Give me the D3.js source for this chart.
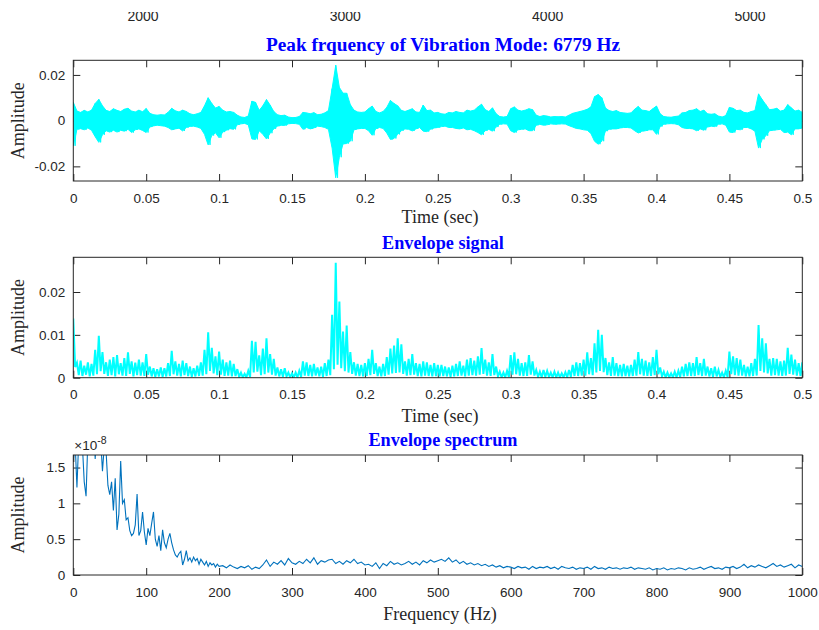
<!DOCTYPE html>
<html>
<head>
<meta charset="utf-8">
<script src="https://cdn.jsdelivr.net/npm/d3@7"></script>
<style>
  body { margin: 0; background: #fff; }
  svg { display: block; }
  .tick text { font-family: "Liberation Sans", Arial, sans-serif; font-size: 13.5px; fill: #262626; }
  .tick line { stroke: #262626; }
  .title { font-family: "Liberation Serif", "Times New Roman", serif; font-weight: bold; font-size: 18.2px; fill: #0000ff; }
  .lab { font-family: "Liberation Serif", "Times New Roman", serif; font-size: 18px; fill: #262626; }
</style>
</head>
<body>
<div id="chart"></div>
<script>
// vibration signal, upper and lower extent per 2.5 ms (x 1e-3)
var sigHi = [
  8.0,4.2,3.6,4.5,3.8,4.6,7.5,9.3,6.5,4.5,
  4.0,5.2,4.5,4.0,5.0,5.4,4.2,3.8,4.6,3.9,
  5.3,3.2,2.6,2.4,2.6,2.5,3.6,5.4,4.3,3.8,
  4.6,4.0,3.0,2.6,3.0,3.6,6.5,10.0,7.5,5.5,
  6.2,4.6,3.8,4.0,3.6,2.4,1.6,1.4,2.0,8.5,
  8.0,4.5,6.5,9.2,6.8,4.0,2.6,2.2,2.4,1.6,
  1.3,1.4,1.8,3.6,3.4,3.0,3.5,2.6,2.8,3.4,
  4.4,14.0,24.2,14.5,12.0,12.0,7.0,4.6,3.8,3.6,
  3.8,5.2,6.4,4.0,3.4,4.0,5.8,8.8,7.5,6.5,
  4.5,4.0,4.6,5.2,3.8,3.6,6.8,4.4,4.6,3.4,
  3.6,3.0,2.8,3.6,3.4,4.0,3.6,3.4,4.6,4.2,
  4.6,6.0,7.2,4.8,4.0,5.6,3.0,1.8,1.6,1.8,
  5.2,6.0,4.6,4.2,4.6,5.2,4.8,2.4,1.8,2.2,
  2.0,1.6,1.8,1.7,1.8,1.6,2.4,3.2,3.6,4.0,
  4.4,5.0,6.0,10.5,11.4,10.0,5.5,4.4,4.0,4.4,
  3.6,3.4,3.2,3.4,5.0,6.2,4.6,4.4,4.0,5.2,
  6.4,3.0,1.8,1.6,1.5,1.8,2.0,3.4,3.6,4.4,
  4.6,5.2,4.0,4.6,3.0,2.8,3.0,2.0,1.6,2.2,
  5.8,5.4,4.4,4.6,3.6,3.4,4.0,4.4,11.7,9.2,
  7.0,4.8,5.0,5.4,4.2,4.6,7.0,5.6,4.2,4.6,
  3.6];
var sigLo = [
  -11,-3.8,-3.5,-4.0,-3.2,-4.2,-7.0,-9.5,-6.2,-4.4,
  -5.0,-4.2,-5.0,-4.2,-4.6,-3.8,-5.2,-4.0,-3.6,-4.3,
  -5.2,-2.8,-2.3,-2.0,-2.2,-2.4,-3.0,-4.0,-3.6,-3.3,
  -4.5,-3.0,-2.5,-2.4,-2.8,-3.4,-6.0,-10.6,-6.5,-5.3,
  -7.5,-5.0,-4.2,-3.5,-3.8,-1.8,-1.4,-1.2,-1.8,-8.0,
  -8.2,-4.4,-6.0,-8.0,-5.5,-3.6,-2.4,-2.0,-2.1,-1.4,
  -1.2,-1.3,-1.6,-3.8,-3.0,-3.6,-3.2,-2.4,-2.6,-3.0,
  -3.8,-12.0,-25.0,-16.0,-10.2,-10.0,-9.0,-4.0,-3.6,-3.4,
  -3.4,-4.4,-6.4,-3.5,-3.0,-3.4,-5.4,-8.2,-7.8,-6.0,
  -4.4,-3.6,-3.8,-4.5,-3.6,-3.0,-4.6,-4.8,-3.8,-3.2,
  -3.0,-2.6,-2.4,-3.0,-3.0,-3.4,-3.6,-3.2,-4.0,-3.8,
  -4.4,-5.2,-6.2,-4.4,-3.8,-4.6,-2.8,-1.6,-1.4,-1.5,
  -4.4,-5.2,-4.0,-3.8,-3.6,-4.4,-4.4,-2.0,-1.6,-2.0,
  -1.8,-1.4,-1.6,-1.5,-1.4,-1.5,-2.2,-2.8,-3.4,-3.6,
  -4.0,-4.2,-5.6,-9.0,-10.3,-9.0,-4.6,-3.8,-3.6,-3.6,
  -3.2,-3.0,-3.0,-3.2,-4.4,-5.4,-4.6,-4.4,-4.0,-4.0,
  -6.0,-2.6,-1.6,-1.4,-1.3,-1.4,-1.8,-3.0,-3.4,-3.4,
  -3.6,-4.4,-3.6,-4.2,-2.8,-2.4,-2.6,-1.6,-1.4,-2.0,
  -5.0,-5.2,-3.8,-4.0,-3.0,-3.0,-3.6,-4.6,-12.0,-8.2,
  -6.6,-4.4,-4.2,-4.0,-3.8,-5.2,-5.0,-6.2,-3.6,-3.6,
  -3.2];

// envelope signal, max and min per 2.5 ms (x 1e-3)
var envHi = [
  13.8,3.5,4.0,2.8,3.6,3.2,6.5,9.8,6.0,3.6,
  4.2,4.8,5.3,3.4,4.6,5.9,3.8,3.5,4.2,3.6,
  5.5,2.6,2.2,2.0,2.4,2.2,3.4,6.3,3.8,3.2,
  4.0,3.4,2.6,2.2,2.8,3.6,6.5,10.6,7.0,5.0,
  6.1,4.2,3.6,4.0,3.2,2.0,1.2,0.9,1.6,8.6,
  8.4,5.2,6.8,9.2,5.5,4.4,2.4,2.0,2.2,1.2,
  1.0,1.2,1.6,3.8,3.6,3.0,3.2,2.4,2.6,3.4,
  4.2,14.7,26.8,17.8,10.8,12.2,6.0,3.6,3.2,3.0,
  3.4,4.4,6.5,3.4,2.6,3.2,4.8,6.8,7.5,9.2,
  7.8,3.8,4.4,5.5,3.4,3.2,3.8,3.6,3.0,3.4,
  3.0,3.0,2.6,2.4,2.8,3.2,3.8,2.8,4.2,4.6,
  4.0,5.0,6.9,4.2,3.6,5.5,2.6,1.4,1.2,1.6,
  5.3,5.9,4.4,3.4,3.6,5.3,3.8,1.8,1.4,1.8,
  1.6,1.2,1.4,1.2,1.0,1.3,1.8,3.0,3.6,3.4,
  4.2,5.9,4.6,8.0,11.2,10.0,4.6,3.6,4.8,3.4,
  3.0,3.2,2.8,3.0,4.2,6.0,4.4,4.0,3.6,4.8,
  6.5,2.4,1.4,1.2,1.0,1.4,1.6,2.6,3.2,3.6,
  3.4,4.8,3.4,4.4,2.6,2.2,2.6,1.8,1.2,1.6,
  6.1,5.0,4.6,4.2,3.0,2.6,3.4,4.4,12.3,9.2,
  8.0,4.4,4.6,4.4,3.8,4.0,7.0,5.4,4.2,3.4,
  3.6];
var envLo = [
  2.5,0.6,0.4,0.7,0.3,0.5,0.8,1.5,0.9,0.4,
  0.6,0.3,0.8,0.5,0.4,0.9,0.3,0.6,0.5,0.4,
  0.7,0.3,0.2,0.3,0.2,0.3,0.4,0.8,0.5,0.3,
  0.6,0.4,0.2,0.3,0.4,0.5,0.8,1.6,1.0,0.6,
  0.7,0.4,0.5,0.3,0.4,0.2,0.1,0.1,0.2,1.2,
  1.4,0.6,0.8,1.2,0.7,0.5,0.3,0.2,0.3,0.1,
  0.1,0.1,0.2,0.5,0.4,0.3,0.5,0.3,0.2,0.4,
  0.6,2.0,3.0,2.2,1.5,1.2,0.9,0.5,0.4,0.3,
  0.4,0.6,0.9,0.4,0.3,0.4,0.7,1.0,1.1,1.2,
  0.9,0.5,0.6,0.7,0.4,0.3,0.5,0.4,0.3,0.4,
  0.3,0.4,0.3,0.2,0.3,0.4,0.5,0.3,0.5,0.6,
  0.5,0.7,0.9,0.5,0.4,0.6,0.3,0.1,0.1,0.2,
  0.7,0.8,0.5,0.4,0.4,0.7,0.5,0.2,0.1,0.2,
  0.2,0.1,0.1,0.1,0.1,0.1,0.2,0.4,0.4,0.5,
  0.5,0.8,0.6,1.2,1.6,1.3,0.6,0.4,0.5,0.4,
  0.3,0.4,0.3,0.4,0.5,0.8,0.5,0.4,0.4,0.6,
  0.8,0.3,0.1,0.1,0.1,0.1,0.2,0.3,0.4,0.4,
  0.4,0.6,0.4,0.5,0.3,0.2,0.3,0.2,0.1,0.2,
  0.8,0.6,0.5,0.5,0.3,0.3,0.4,0.5,1.6,1.2,
  1.0,0.5,0.6,0.5,0.4,0.5,0.9,0.7,0.5,0.4,
  0.3];

// envelope spectrum (x 1e-8): 0-200 Hz every 2.5 Hz, then 205-1000 Hz every 5 Hz
var specLow = [
  1.60,1.85,1.22,1.90,2.10,1.80,1.30,1.10,1.90,2.30,
  2.00,2.20,1.62,2.00,2.40,1.90,1.45,1.80,1.72,1.25,
  1.12,1.30,0.90,1.35,0.63,0.85,1.59,1.00,1.05,0.77,
  0.80,0.62,0.55,0.58,0.70,1.13,0.55,0.62,0.88,0.60,
  0.42,0.65,0.55,0.72,0.88,0.50,0.40,0.55,0.34,0.63,
  0.45,0.38,0.50,0.58,0.45,0.35,0.28,0.25,0.30,0.33,
  0.14,0.22,0.34,0.20,0.24,0.18,0.25,0.20,0.23,0.15,
  0.22,0.18,0.14,0.19,0.12,0.17,0.14,0.16,0.11,0.15,
  0.12];
var specHigh = [
  0.13,0.10,0.14,0.11,0.09,0.12,0.10,0.13,0.08,0.11,
  0.09,0.14,0.21,0.12,0.18,0.15,0.20,0.14,0.23,0.17,
  0.15,0.19,0.16,0.22,0.17,0.24,0.15,0.20,0.18,0.21,
  0.22,0.16,0.19,0.15,0.20,0.17,0.22,0.16,0.18,0.14,
  0.15,0.12,0.17,0.09,0.16,0.13,0.19,0.15,0.17,0.14,
  0.16,0.19,0.15,0.18,0.14,0.20,0.17,0.21,0.18,0.20,
  0.22,0.19,0.24,0.18,0.21,0.16,0.19,0.15,0.17,0.14,
  0.16,0.13,0.15,0.12,0.14,0.11,0.13,0.10,0.12,0.11,
  0.09,0.12,0.10,0.11,0.08,0.12,0.09,0.11,0.10,0.12,
  0.09,0.11,0.08,0.12,0.10,0.09,0.11,0.08,0.10,0.09,
  0.11,0.08,0.12,0.09,0.10,0.08,0.11,0.09,0.10,0.08,
  0.10,0.09,0.11,0.08,0.10,0.09,0.08,0.10,0.07,0.09,
  0.08,0.10,0.07,0.09,0.08,0.10,0.09,0.07,0.10,0.08,
  0.09,0.11,0.08,0.10,0.12,0.09,0.10,0.08,0.11,0.10,
  0.12,0.09,0.11,0.15,0.10,0.13,0.11,0.14,0.12,0.10,
  0.13,0.16,0.12,0.14,0.11,0.13,0.15,0.10,0.14,0.12];

var timeTicks = [0,0.05,0.1,0.15,0.2,0.25,0.3,0.35,0.4,0.45,0.5];
var timeTickLabels = ["0","0.05","0.1","0.15","0.2","0.25","0.3","0.35","0.4","0.45","0.5"];
var sigTicks = [-0.02,0,0.02], sigTickLabels = ["-0.02","0","0.02"];
var envTicks = [0,0.01,0.02], envTickLabels = ["0","0.01","0.02"];
var freqTicks = [0,100,200,300,400,500,600,700,800,900,1000];
var specTicks = [0,0.5,1,1.5], specTickLabels = ["0","0.5","1","1.5"];
var strayTicks = [2000,3000,4000,5000];

var dt = 0.0025;

var width = 819, height = 630;
var left = 73.3, right = 802.3;
var titleX = 443, labelX = 440;

var svg = d3.select("#chart").append("svg")
    .attr("width", width)
    .attr("height", height);

// leftover tick labels of a figure above, cut at the top edge
svg.append("clipPath").attr("id", "cliptop")
  .append("rect").attr("x", 0).attr("y", 12).attr("width", width).attr("height", 20);
var xStray = d3.scaleLinear().domain([2000, 5000]).range([143, 750]);
svg.append("g").attr("clip-path", "url(#cliptop)")
  .selectAll("text").data(strayTicks).enter().append("text")
    .attr("x", function(d) { return xStray(d); })
    .attr("y", 21)
    .attr("text-anchor", "middle")
    .style("font-family", "Liberation Sans, Arial, sans-serif")
    .style("font-size", "14px")
    .style("fill", "#262626")
    .text(function(d) { return d; });

function panel(id, x, y, xt, xl, yt, yl) {
  var top = y.range()[1], bottom = y.range()[0];
  var g = svg.append("g");
  g.append("clipPath").attr("id", id)
    .append("rect").attr("x", left).attr("y", top)
    .attr("width", right - left).attr("height", bottom - top);

  g.append("g").attr("transform", "translate(0," + bottom + ")")
    .call(d3.axisBottom(x).tickValues(xt).tickFormat(function(d, i) { return xl[i]; })
      .tickSizeInner(-7).tickSizeOuter(0).tickPadding(12));
  g.append("g").attr("transform", "translate(0," + top + ")")
    .call(d3.axisTop(x).tickValues(xt).tickFormat("").tickSizeInner(-7).tickSizeOuter(0));
  g.append("g").attr("transform", "translate(" + left + ",0)")
    .call(d3.axisLeft(y).tickValues(yt).tickFormat(function(d, i) { return yl[i]; })
      .tickSizeInner(-7).tickSizeOuter(0).tickPadding(8));
  g.append("g").attr("transform", "translate(" + right + ",0)")
    .call(d3.axisRight(y).tickValues(yt).tickFormat("").tickSizeInner(-7).tickSizeOuter(0));
  g.selectAll(".domain").remove();

  var plot = g.append("g").attr("clip-path", "url(#" + id + ")");
  g.append("rect")
    .attr("x", left).attr("y", top)
    .attr("width", right - left).attr("height", bottom - top)
    .attr("fill", "none").attr("stroke", "#262626").attr("stroke-width", 1);

  g.append("text").attr("class", "lab")
    .attr("transform", "translate(24," + ((top + bottom) / 2) + ") rotate(-90)")
    .attr("text-anchor", "middle")
    .text("Amplitude");
  return { g: g, plot: plot, top: top, bottom: bottom };
}

// hi/lo pairs -> one dense trace, visiting the top and then the bottom of every bin
function zigzag(hi, lo, scale) {
  var pts = [];
  hi.forEach(function(v, i) {
    pts.push({ t: i * dt, v: v / scale });
    if (i < hi.length - 1) pts.push({ t: i * dt + dt / 2, v: lo[i] / scale });
  });
  return pts;
}

var xT = d3.scaleLinear().domain([0, 0.5]).range([left, right]);

// ---- panel 1: filtered vibration signal
var y1 = d3.scaleLinear().domain([-0.0264, 0.0264]).range([181, 60.3]);
var p1 = panel("c1", xT, y1, timeTicks, timeTickLabels, sigTicks, sigTickLabels);
var sig = sigHi.map(function(v, i) { return { t: i * dt, hi: v / 1000, lo: sigLo[i] / 1000 }; });
p1.plot.append("path")
  .datum(sig)
  .attr("fill", "#00ffff")
  .attr("stroke", "#00ffff")
  .attr("stroke-width", 1)
  .attr("d", d3.area()
    .x(function(d) { return xT(d.t); })
    .y0(function(d) { return y1(d.lo); })
    .y1(function(d) { return y1(d.hi); }));
p1.plot.append("path")
  .datum(zigzag(sigHi, sigLo, 1000))
  .attr("fill", "none")
  .attr("stroke", "#00ffff")
  .attr("stroke-width", 1)
  .attr("d", d3.line()
    .x(function(d) { return xT(d.t); })
    .y(function(d) { return y1(d.v); }));
p1.g.append("text").attr("class", "title")
  .attr("x", titleX).attr("y", 51).attr("text-anchor", "middle")
  .style("font-size", "19.3px")
  .text("Peak frquency of Vibration Mode: 6779 Hz");
p1.g.append("text").attr("class", "lab")
  .attr("x", labelX).attr("y", 223).attr("text-anchor", "middle")
  .text("Time (sec)");

// ---- panel 2: envelope signal
var y2 = d3.scaleLinear().domain([0, 0.0281]).range([377.7, 257.3]);
var p2 = panel("c2", xT, y2, timeTicks, timeTickLabels, envTicks, envTickLabels);
p2.plot.append("path")
  .datum(zigzag(envHi, envLo, 1000))
  .attr("fill", "none")
  .attr("stroke", "#00ffff")
  .attr("stroke-width", 2)
  .attr("stroke-linejoin", "miter")
  .attr("d", d3.line()
    .x(function(d) { return xT(d.t); })
    .y(function(d) { return y2(d.v); }));
p2.g.append("text").attr("class", "title")
  .attr("x", titleX).attr("y", 249).attr("text-anchor", "middle")
  .text("Envelope signal");
p2.g.append("text").attr("class", "lab")
  .attr("x", labelX).attr("y", 422).attr("text-anchor", "middle")
  .text("Time (sec)");

// ---- panel 3: envelope spectrum
var xF = d3.scaleLinear().domain([0, 1000]).range([left, right]);
var y3 = d3.scaleLinear().domain([0, 1.675]).range([575, 455]);
var p3 = panel("c3", xF, y3, freqTicks, freqTicks.map(String), specTicks, specTickLabels);
var spec = specLow.map(function(v, i) { return { f: i * 2.5, v: v }; })
  .concat(specHigh.map(function(v, i) { return { f: 205 + i * 5, v: v }; }));
p3.plot.append("path")
  .datum(spec)
  .attr("fill", "none")
  .attr("stroke", "#0072bd")
  .attr("stroke-width", 1.1)
  .attr("d", d3.line()
    .x(function(d) { return xF(d.f); })
    .y(function(d) { return y3(d.v); }));
p3.g.append("text").attr("class", "title")
  .attr("x", titleX).attr("y", 446).attr("text-anchor", "middle")
  .text("Envelope spectrum");
p3.g.append("text").attr("class", "lab")
  .attr("x", labelX).attr("y", 620).attr("text-anchor", "middle")
  .text("Frequency (Hz)");
var ex = p3.g.append("text")
  .attr("x", left + 1).attr("y", 450)
  .style("font-family", "Liberation Sans, Arial, sans-serif")
  .style("font-size", "13.5px")
  .style("fill", "#262626");
ex.append("tspan").text("\u00d710");
ex.append("tspan").attr("dy", -6).style("font-size", "10.5px").text("-8");
</script>
</body>
</html>
